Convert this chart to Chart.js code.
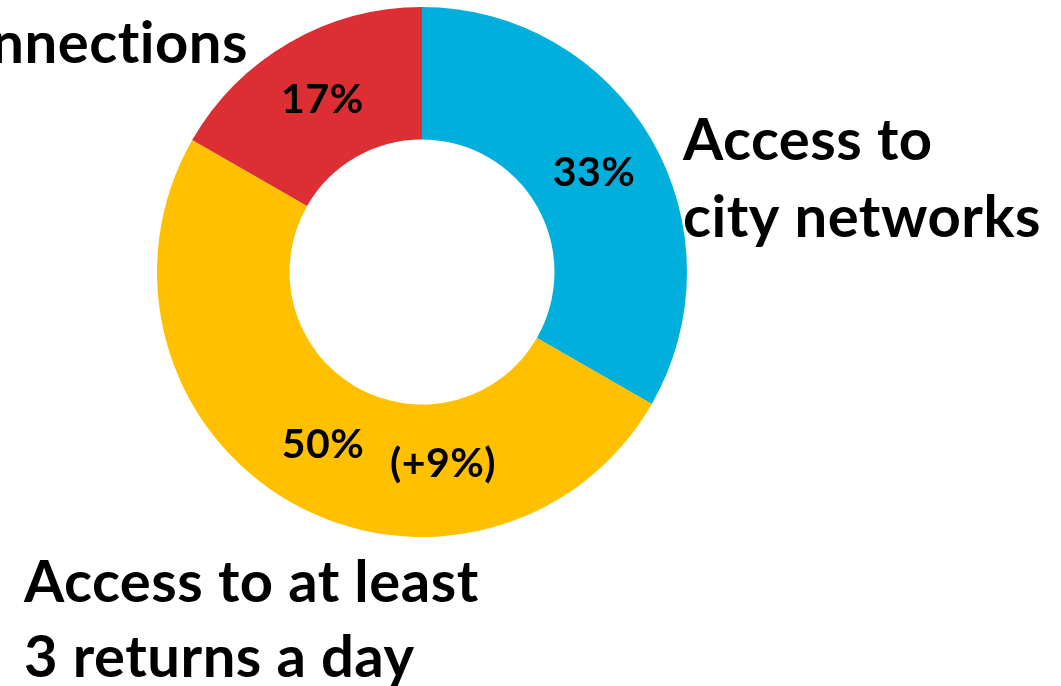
<!DOCTYPE html>
<html lang="en">

<head>
    <meta charset="UTF-8">
    <title>Access</title>
    <script src="https://cdn.jsdelivr.net/npm/chart.js"></script>
    <style>
        body { margin: 0; background: #fff; }
        .wrap { width: 1061px; height: 686px; position: relative; }
    </style>
</head>

<body>
    <div class="wrap">
        <canvas id="donut"></canvas>
    </div>

    <script>
        // === Data ===
        const categories = ['Access to city networks', 'Access to at least 3 returns a day', 'No connections'];
        const shares = [33.3, 50, 16.7];
        const shareLabels = ['33%', '50%', '17%'];
        const extraLabel = '(+9%)';
        const colors = ['#00AFDB', '#FFC000', '#DC2E33'];

        // outside captions, one list of lines per slice
        const captions = [
            ['Access to', 'city networks'],
            ['Access to at least', '3 returns a day'],
            ['No connections']
        ];

        const FONT = '"Lato", "Open Sans", sans-serif';

        // === Plugin: labels inside slices + captions ===
        const labelPlugin = {
            id: 'sliceLabels',
            afterDatasetsDraw(chart) {
                const ctx = chart.ctx;
                const arcs = chart.getDatasetMeta(0).data;
                ctx.save();
                ctx.fillStyle = '#000';
                ctx.textAlign = 'center';
                ctx.textBaseline = 'middle';
                ctx.letterSpacing = '0.5px'; // also stops the "ti" ligature
                ctx.font = 'bold 41px ' + FONT;
                arcs.forEach((arc, i) => {
                    const p = arc.tooltipPosition();
                    ctx.fillText(shareLabels[i], p.x, p.y);
                });
                // the (+9%) note next to the yellow slice label
                const y = arcs[1].tooltipPosition();
                ctx.fillText(extraLabel, y.x + 120, y.y + 19);

                // captions
                ctx.font = 'bold 58px ' + FONT;
                ctx.textBaseline = 'alphabetic';
                ctx.textAlign = 'left';
                ctx.fillText(captions[0][0], 683, 160);
                ctx.fillText(captions[0][1], 683, 237);
                ctx.fillText(captions[1][0], 24, 602);
                ctx.fillText(captions[1][1], 24, 677);
                ctx.textAlign = 'right';
                ctx.fillText(captions[2][0], 248, 63);
                ctx.restore();
            }
        };

        const ctx = document.getElementById('donut').getContext('2d');
        new Chart(ctx, {
            type: 'doughnut',
            data: {
                labels: categories,
                datasets: [{
                    data: shares,
                    backgroundColor: colors,
                    borderWidth: 0
                }]
            },
            options: {
                responsive: true,
                maintainAspectRatio: false,
                animation: false,
                cutout: '50%',
                layout: {
                    padding: { left: 157, right: 374, top: 7, bottom: 149 }
                },
                plugins: {
                    legend: { display: false },
                    tooltip: { enabled: false }
                }
            },
            plugins: [labelPlugin]
        });
    </script>

</body>

</html>
